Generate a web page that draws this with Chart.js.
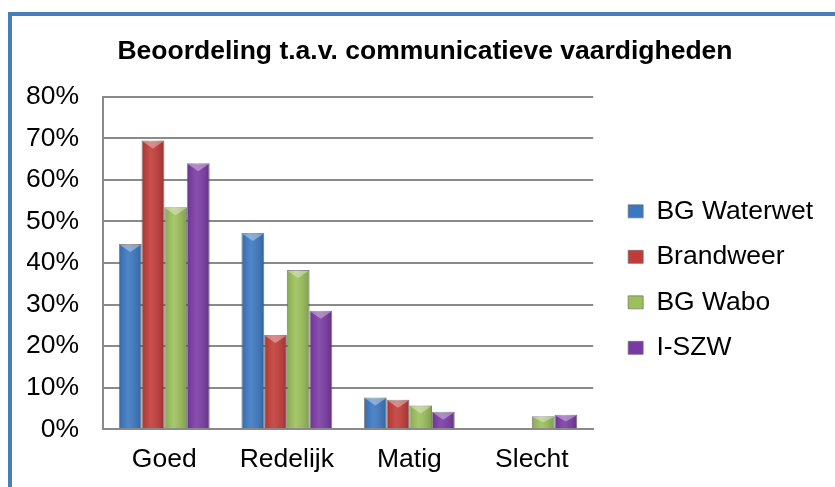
<!DOCTYPE html>
<html lang="nl">
<head>
<meta charset="UTF-8">
<title>Beoordeling t.a.v. communicatieve vaardigheden</title>
<script src="https://cdn.jsdelivr.net/npm/chart.js"></script>
<style>
  html, body { margin: 0; padding: 0; background: #fff; overflow: hidden; }
  /* blauwe kaderrand links en boven, zoals in het origineel */
  .frame {
    position: absolute; left: 8px; top: 12px; width: 900px; height: 600px;
    border-left: 4px solid #4a7ebb; border-top: 4px solid #4a7ebb;
  }
  .wrap { position: absolute; left: 0; top: 0; width: 835px; height: 487px; }
</style>
</head>
<body>
<div class="frame"></div>
<div class="wrap"><canvas id="chart"></canvas></div>
<script>
// categorieën en waarden (in %)
const categories = ['Goed', 'Redelijk', 'Matig', 'Slecht'];
const bgWaterwet = [44.6, 47.2, 7.6, 0];
const brandweer  = [69.5, 22.7, 7.1, 0];
const bgWabo     = [53.4, 38.3, 5.7, 3.1];
const iSzw       = [64.0, 28.5, 4.2, 3.5];
const yTicks = [0, 10, 20, 30, 40, 50, 60, 70, 80];

const seriesNames = ['BG Waterwet', 'Brandweer', 'BG Wabo', 'I-SZW'];
const colors = ['#3b78c2', '#c23b37', '#9cc05a', '#7a3aa5'];
const FONT = 'Liberation Sans, Arial, sans-serif';

// schaduw + lichte driehoek bovenaan de balken (bevel-look van Excel)
const shade = {
  id: 'shade',
  afterDatasetsDraw(chart) {
    const ctx = chart.ctx;
    chart.data.datasets.forEach((ds, i) => {
      chart.getDatasetMeta(i).data.forEach(bar => {
        const h = bar.base - bar.y;
        if (h <= 0) return;
        const l = bar.x - bar.width / 2, r = bar.x + bar.width / 2;
        const g = ctx.createLinearGradient(l, 0, r, 0);
        g.addColorStop(0, 'rgba(0,0,0,0.12)');
        g.addColorStop(0.4, 'rgba(255,255,255,0.10)');
        g.addColorStop(1, 'rgba(0,0,0,0.18)');
        ctx.save();
        ctx.fillStyle = g;
        ctx.fillRect(l, bar.y, bar.width, h);
        const t = Math.min(8, h / 2);
        ctx.fillStyle = 'rgba(255,255,255,0.35)';
        ctx.beginPath();
        ctx.moveTo(l + 1, bar.y + 1);
        ctx.lineTo(r - 1, bar.y + 1);
        ctx.lineTo(bar.x, bar.y + t);
        ctx.closePath();
        ctx.fill();
        ctx.restore();
      });
    });
  }
};

new Chart(document.getElementById('chart'), {
  type: 'bar',
  data: {
    labels: categories,
    datasets: [bgWaterwet, brandweer, bgWabo, iSzw].map((d, i) => ({
      label: seriesNames[i],
      data: d,
      backgroundColor: colors[i],
      borderColor: 'rgba(110,110,110,0.7)',
      borderWidth: 1,
      categoryPercentage: 0.74,
      barPercentage: 1.0
    }))
  },
  options: {
    responsive: true,
    maintainAspectRatio: false,
    animation: false,
    layout: { padding: { top: 20, left: 27, right: 12, bottom: -4 } },
    plugins: {
      title: {
        display: true,
        text: 'Beoordeling t.a.v. communicatieve vaardigheden',
        color: '#000',
        font: { family: FONT, size: 26.5, weight: 'bold' },
        padding: { top: 16, bottom: 29 }
      },
      legend: {
        position: 'right',
        fullSize: false,
        maxWidth: 230,
        title: { display: true, text: ' ', font: { size: 1 }, padding: { top: 0, bottom: 32 } },
        labels: {
          color: '#000',
          boxWidth: 15,
          boxHeight: 13,
          padding: 19,
          font: { family: FONT, size: 26.5 }
        }
      },
      tooltip: { enabled: false }
    },
    scales: {
      x: {
        grid: { display: false, drawTicks: false },
        border: { color: '#8a8a8a', width: 2 },
        ticks: { color: '#000', padding: 15, font: { family: FONT, size: 26.5 } }
      },
      y: {
        min: 0, max: 80,
        afterBuildTicks: axis => { axis.ticks = yTicks.map(v => ({ value: v })); },
        afterFit: axis => { axis.width = 76; },
        grid: { color: '#8a8a8a', lineWidth: 2, drawTicks: false },
        border: { color: '#8a8a8a', width: 2 },
        ticks: {
          color: '#000', padding: 24,
          font: { family: FONT, size: 26.5 },
          callback: v => v + '%'
        }
      },
      // lege ruimte tussen grafiek en legenda
      gap: {
        position: 'right',
        grid: { display: false, drawTicks: false },
        border: { display: false },
        ticks: { display: false },
        afterFit: axis => { axis.width = 16; }
      }
    }
  },
  plugins: [shade]
});
</script>
</body>
</html>
